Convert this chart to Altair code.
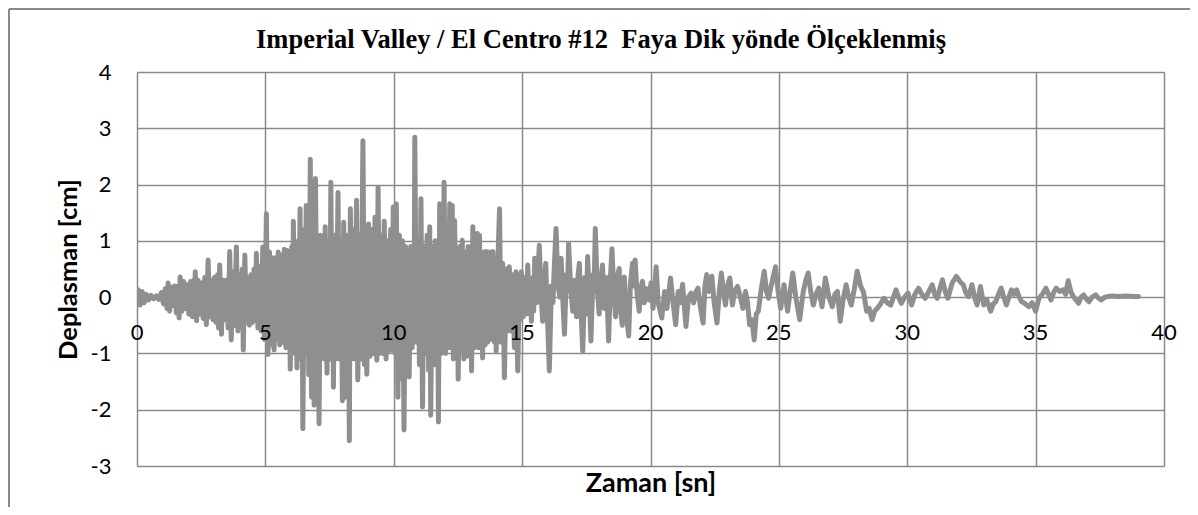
import altair as alt
import pandas as pd

TITLE = "Imperial Valley / El Centro #12\u00a0 Faya Dik yönde Ölçeklenmiş"
X_TITLE = "Zaman [sn]"
Y_TITLE = "Deplasman [cm]"
X_TICKS = [0, 5, 10, 15, 20, 25, 30, 35, 40]
Y_TICKS = [-3, -2, -1, 0, 1, 2, 3, 4]

# (time [s], displacement [cm]), segment by segment
seg_0_5 = [
    (0.00, 0.05), (0.05, 0.13), (0.12, -0.14), (0.20, 0.10), (0.28, -0.10), (0.36, 0.05),
    (0.45, -0.05), (0.55, 0.03), (0.65, -0.03), (0.75, 0.02), (0.85, -0.04), (0.95, 0.08),
    (1.03, -0.12), (1.10, 0.15), (1.17, -0.20), (1.21, 0.25), (1.27, -0.25), (1.33, 0.18),
    (1.40, -0.15), (1.47, 0.20), (1.53, -0.28), (1.60, 0.20), (1.64, -0.37), (1.68, 0.36),
    (1.75, -0.25), (1.82, 0.28), (1.88, -0.20), (1.95, 0.22), (2.02, -0.30), (2.09, 0.28),
    (2.16, -0.35), (2.21, 0.30), (2.24, -0.25), (2.27, 0.45), (2.32, -0.42), (2.38, 0.30),
    (2.45, -0.30), (2.52, 0.25), (2.58, -0.38), (2.64, 0.35), (2.70, -0.49), (2.77, 0.66),
    (2.83, -0.35), (2.90, 0.30), (2.96, -0.40), (3.02, 0.35), (3.08, -0.45), (3.14, 0.40),
    (3.18, -0.55), (3.22, 0.57), (3.29, -0.66), (3.35, 0.30), (3.42, -0.40), (3.48, 0.30),
    (3.55, -0.55), (3.61, 0.81), (3.67, -0.76), (3.73, 0.45), (3.79, -0.50), (3.87, 0.89),
    (3.93, -0.60), (3.99, 0.40), (4.05, -0.55), (4.10, 0.50), (4.14, -0.94), (4.20, 0.75),
    (4.26, -0.45), (4.32, 0.35), (4.38, -0.50), (4.44, 0.40), (4.50, -0.45), (4.56, 0.50),
    (4.61, -0.40), (4.65, 0.78), (4.71, -0.55), (4.77, 0.55), (4.83, -0.60), (4.90, 0.89),
    (4.96, -0.75),
]
seg_5_10 = [
    (5.04, 1.48), (5.10, -1.02), (5.16, 0.80), (5.22, -0.85), (5.28, 0.70), (5.34, -0.94),
    (5.40, 0.70), (5.46, -0.75), (5.50, 0.80), (5.56, -0.85), (5.62, 0.75), (5.68, -0.80),
    (5.74, 0.85), (5.80, -0.90), (5.85, 0.83), (5.90, -0.90), (5.93, 0.70), (5.97, -1.28),
    (6.03, 0.90), (6.06, -0.90), (6.09, 1.35), (6.15, -1.00), (6.19, 0.90), (6.23, -1.26),
    (6.29, 1.00), (6.31, -0.90), (6.35, 1.57), (6.40, -1.10), (6.42, 0.90), (6.46, -2.34),
    (6.52, 1.20), (6.55, -1.00), (6.59, 1.63), (6.63, -1.00), (6.66, 1.00), (6.69, -1.38),
    (6.75, 2.45), (6.80, -1.78), (6.86, 1.00), (6.90, -1.92), (6.95, 2.11), (7.02, -1.20),
    (7.05, 1.00), (7.09, -2.25), (7.15, 1.10), (7.20, -1.00), (7.26, 1.00), (7.29, -1.10),
    (7.33, 1.25), (7.40, -1.35), (7.46, 1.00), (7.51, -1.10), (7.55, 2.04), (7.60, -1.10),
    (7.62, 0.95), (7.65, -1.60), (7.70, 1.10), (7.75, -1.10), (7.83, 1.86), (7.88, -1.10),
    (7.94, 1.00), (8.00, -1.84), (8.05, 1.33), (8.10, -1.78), (8.15, 1.10), (8.20, -1.20),
    (8.23, 1.00), (8.27, -2.55), (8.31, 1.57), (8.36, -1.10), (8.42, 1.20), (8.48, -1.10),
    (8.55, 1.72), (8.60, -1.47), (8.66, 1.10), (8.72, -1.10), (8.80, 2.78), (8.86, -1.20),
    (8.90, 1.00), (8.95, -1.37), (9.02, 1.30), (9.08, -1.05), (9.14, 1.20), (9.20, -1.00),
    (9.27, 1.42), (9.34, -1.12), (9.39, 1.95), (9.45, -1.00), (9.52, 1.10), (9.58, -1.00),
    (9.63, 1.35), (9.70, -1.10), (9.76, 1.00), (9.82, -0.95), (9.88, 1.20), (9.93, -0.94),
    (9.98, 1.60),
]
seg_10_15 = [
    (10.05, -1.00), (10.10, 1.66), (10.16, -1.78), (10.22, 1.10), (10.28, -1.45), (10.34, 1.00),
    (10.40, -2.36), (10.46, 0.90), (10.50, -0.95), (10.56, 0.80), (10.60, -1.42), (10.66, 0.90),
    (10.72, -0.90), (10.76, 0.80), (10.79, -0.70), (10.82, 2.84), (10.88, -0.80), (10.94, 1.00),
    (11.00, -1.20), (11.06, 1.75), (11.12, -1.95), (11.18, 0.90), (11.24, -1.00), (11.30, 1.10),
    (11.36, -1.30), (11.40, 1.25), (11.44, -2.10), (11.50, 0.90), (11.56, -1.20), (11.62, 1.00),
    (11.68, -1.00), (11.70, 0.80), (11.74, -2.22), (11.79, 1.66), (11.85, -1.00), (11.90, 1.20),
    (11.93, -0.90), (11.96, 2.04), (12.02, -1.00), (12.08, 1.00), (12.12, -0.90), (12.18, 1.66),
    (12.22, -0.90), (12.28, 1.63), (12.32, -1.10), (12.37, 1.36), (12.44, -0.90), (12.47, 0.80),
    (12.51, -1.46), (12.58, 0.90), (12.63, -0.90), (12.67, 1.01), (12.73, -1.10), (12.79, 0.80),
    (12.85, -1.05), (12.90, 0.90), (12.96, -0.90), (12.99, 0.85), (13.03, -1.31), (13.08, 1.25),
    (13.14, -0.90), (13.19, 0.80), (13.22, -0.80), (13.26, 1.13), (13.30, -0.90), (13.34, 1.10),
    (13.40, -0.80), (13.42, 0.70), (13.46, -1.08), (13.52, 0.80), (13.56, -0.85), (13.60, 0.81),
    (13.66, -0.80), (13.72, 0.80), (13.78, -0.75), (13.86, 0.81), (13.92, -0.80), (13.95, 0.60),
    (13.99, -0.96), (14.06, 0.70), (14.12, 1.57), (14.18, -0.80), (14.24, 0.60), (14.31, -1.43),
    (14.38, 0.50), (14.44, -0.60), (14.50, 0.54), (14.57, -0.60), (14.63, 0.40), (14.70, -0.90),
    (14.76, 0.45), (14.83, -1.31), (14.90, 0.40), (14.93, -0.40), (14.97, 0.45),
]
seg_15_20 = [
    (15.04, -0.35), (15.10, 0.35), (15.16, -0.30), (15.22, 0.57), (15.28, -0.30), (15.31, 0.30),
    (15.36, -0.43), (15.42, 0.35), (15.45, -0.25), (15.49, 0.69), (15.56, -0.10), (15.62, 0.50),
    (15.67, 0.92), (15.73, 0.10), (15.80, -0.43), (15.86, 0.30), (15.92, 0.60), (15.98, -0.30),
    (16.06, -1.31), (16.14, 0.20), (16.20, -0.10), (16.24, 0.40), (16.32, 1.22), (16.40, 0.20),
    (16.47, 0.00), (16.52, 0.69), (16.58, 0.00), (16.65, -0.66), (16.72, 0.40), (16.77, 0.10),
    (16.81, 0.95), (16.90, 0.10), (16.97, -0.25), (17.05, 0.30), (17.12, -0.35), (17.18, 0.40),
    (17.23, 0.60), (17.30, -0.30), (17.36, -0.96), (17.44, 0.35), (17.50, -0.30), (17.55, 0.72),
    (17.62, 0.00), (17.68, -0.78), (17.76, 0.40), (17.80, 0.10), (17.85, 1.22), (17.92, 0.20),
    (18.00, -0.30), (18.06, 0.25), (18.13, 0.57), (18.20, -0.20), (18.28, 0.35), (18.37, -0.78),
    (18.44, 0.35), (18.50, 0.86), (18.58, 0.00), (18.64, -0.35), (18.70, 0.35), (18.78, 0.51),
    (18.84, -0.25), (18.90, -0.50), (18.98, 0.36), (19.05, -0.25), (19.15, -0.69), (19.22, 0.25),
    (19.30, 0.60), (19.35, 0.20), (19.40, 0.66), (19.48, 0.05), (19.56, -0.25), (19.62, 0.15),
    (19.69, 0.28), (19.76, -0.10), (19.85, 0.15), (19.95, -0.05),
]
seg_20_30 = [
    (20.02, 0.25), (20.10, -0.20), (20.22, 0.54), (20.30, -0.10), (20.44, -0.37), (20.55, 0.10),
    (20.64, -0.20), (20.78, 0.34), (20.88, -0.10), (20.98, -0.49), (21.08, 0.10), (21.16, -0.10),
    (21.25, 0.23), (21.38, -0.52), (21.48, 0.00), (21.58, 0.07), (21.68, -0.10), (21.78, 0.10),
    (21.85, 0.16), (21.95, -0.20), (22.05, -0.46), (22.12, 0.20), (22.19, 0.40), (22.28, 0.10),
    (22.39, 0.37), (22.48, -0.10), (22.59, -0.46), (22.68, 0.10), (22.76, 0.43), (22.84, 0.10),
    (22.92, -0.14), (23.00, 0.20), (23.09, 0.34), (23.19, -0.14), (23.28, 0.10), (23.39, 0.19),
    (23.50, 0.00), (23.60, -0.20), (23.70, 0.10), (23.78, -0.10), (23.86, -0.49), (23.95, -0.40),
    (24.04, -0.76), (24.12, -0.30), (24.20, -0.25), (24.30, 0.10), (24.43, 0.46), (24.52, 0.10),
    (24.60, -0.02), (24.70, 0.20), (24.87, 0.54), (24.97, 0.10), (25.07, -0.20), (25.20, 0.22),
    (25.34, -0.25), (25.44, 0.10), (25.54, 0.43), (25.66, 0.00), (25.81, -0.40), (25.95, 0.10),
    (26.05, 0.30), (26.14, 0.43), (26.24, 0.10), (26.34, -0.14), (26.45, 0.05), (26.55, 0.16),
    (26.68, -0.17), (26.81, 0.34), (26.95, 0.00), (27.08, -0.17), (27.18, 0.05), (27.28, 0.10),
    (27.39, -0.43), (27.50, -0.05), (27.62, 0.22), (27.72, 0.00), (27.82, -0.14), (27.94, 0.15),
    (28.05, 0.46), (28.18, 0.20), (28.29, 0.10), (28.42, -0.25), (28.52, -0.20), (28.63, -0.40),
    (28.73, -0.25), (28.83, -0.20), (28.96, -0.12), (29.09, -0.02), (29.22, -0.10), (29.36, -0.14),
    (29.46, 0.00), (29.56, 0.13), (29.66, 0.00), (29.77, -0.11), (29.90, 0.00),
]
seg_30_39 = [
    (30.03, 0.07), (30.17, -0.14), (30.30, 0.05), (30.44, 0.16), (30.57, 0.05), (30.70, -0.02),
    (30.84, 0.10), (30.97, 0.22), (31.07, 0.05), (31.17, -0.02), (31.27, 0.15), (31.37, 0.31),
    (31.48, 0.10), (31.58, -0.02), (31.75, 0.25), (31.91, 0.37), (32.05, 0.28), (32.18, 0.22),
    (32.28, 0.08), (32.38, 0.01), (32.45, 0.10), (32.52, 0.22), (32.62, 0.00), (32.72, -0.14),
    (32.85, 0.19), (32.98, -0.14), (33.10, -0.05), (33.25, -0.25), (33.35, -0.12), (33.45, -0.08),
    (33.55, 0.05), (33.66, 0.16), (33.76, 0.00), (33.86, -0.14), (33.96, 0.00), (34.06, 0.13),
    (34.16, 0.05), (34.26, 0.13), (34.36, 0.00), (34.46, -0.08), (34.60, -0.12), (34.73, -0.17),
    (34.86, -0.10), (35.00, -0.25), (35.13, -0.02), (35.26, 0.05), (35.40, 0.16), (35.50, 0.05),
    (35.60, -0.05), (35.70, 0.08), (35.80, 0.16), (35.94, 0.10), (36.07, 0.13), (36.17, 0.05),
    (36.27, 0.29), (36.37, 0.10), (36.47, 0.01), (36.57, -0.05), (36.67, -0.11), (36.77, 0.00),
    (36.87, 0.04), (36.97, -0.03), (37.08, -0.08), (37.20, 0.00), (37.34, 0.04), (37.45, -0.02),
    (37.55, -0.05), (37.70, 0.00), (37.81, 0.01), (38.00, 0.02), (38.20, 0.01), (38.50, 0.02),
    (38.80, 0.01), (39.00, 0.01),
]

points = seg_0_5 + seg_5_10 + seg_10_15 + seg_15_20 + seg_20_30 + seg_30_39
df = pd.DataFrame(points, columns=["t", "d"])
df["i"] = range(len(df))
ticks_df = pd.DataFrame({"t": X_TICKS})
title_df = pd.DataFrame({"label": [TITLE]})

GRID = "#8a8a8a"
LINE = "#8f8f8f"
W, H = 1027, 394

xscale = alt.Scale(domain=[0, 40], nice=False, zero=False)
yscale = alt.Scale(domain=[-3, 4], nice=False, zero=False)

line = alt.Chart(df).mark_line(
    color=LINE, strokeWidth=5, strokeCap="round", strokeJoin="round", clip=True
).encode(
    x=alt.X("t:Q", scale=xscale, axis=alt.Axis(
        values=X_TICKS, grid=True, gridColor=GRID, gridWidth=1.5, labels=False,
        ticks=False, domain=False, title=X_TITLE, titleFont="Lato", titleFontSize=27,
        titleFontWeight="bold", titleColor="black", titleY=17, titleBaseline="middle")),
    y=alt.Y("d:Q", scale=yscale, axis=alt.Axis(
        values=Y_TICKS, grid=True, gridColor=GRID, gridWidth=1.5, ticks=False,
        domain=False, labelFont="Lato", labelFontSize=22, labelColor="black",
        labelExpr="'' + datum.value",
        labelPadding=26, title=Y_TITLE, titleFont="Lato", titleFontSize=25.5,
        titleFontWeight="bold", titleColor="black", titleX=-69, titleY=197,
        titleAngle=-90, titleBaseline="middle", titleAlign="center")),
    order="i:Q",
)

xlabels = alt.Chart(ticks_df).mark_text(
    font="Lato", fontSize=22, color="black", dy=36, baseline="middle", align="center"
).encode(
    x=alt.X("t:Q", scale=xscale),
    y=alt.YDatum(0),
    text=alt.Text("t:Q"),
)

title = alt.Chart(title_df).mark_text(
    font="Liberation Serif", fontSize=26.5, fontWeight="bold", color="black",
    align="center", baseline="middle"
).encode(x=alt.value(464), y=alt.value(-32), text="label:N")

border_left = alt.Chart(ticks_df).mark_rule(color=GRID, strokeWidth=1.5).encode(
    x=alt.value(-128), y=alt.value(-63), y2=alt.value(460)
)
border_top = alt.Chart(ticks_df).mark_rule(color=GRID, strokeWidth=1.5).encode(
    x=alt.value(-128), x2=alt.value(1070), y=alt.value(-63)
)

chart = alt.layer(line, xlabels, title, border_left, border_top).properties(
    width=W, height=H,
    padding={"left": 129, "top": 64, "right": 26, "bottom": 41},
    autosize="none",
).configure_view(stroke=GRID, strokeWidth=1.5).configure(background="white")

chart.save("out.html", embed_options={"renderer": "svg", "actions": False})
